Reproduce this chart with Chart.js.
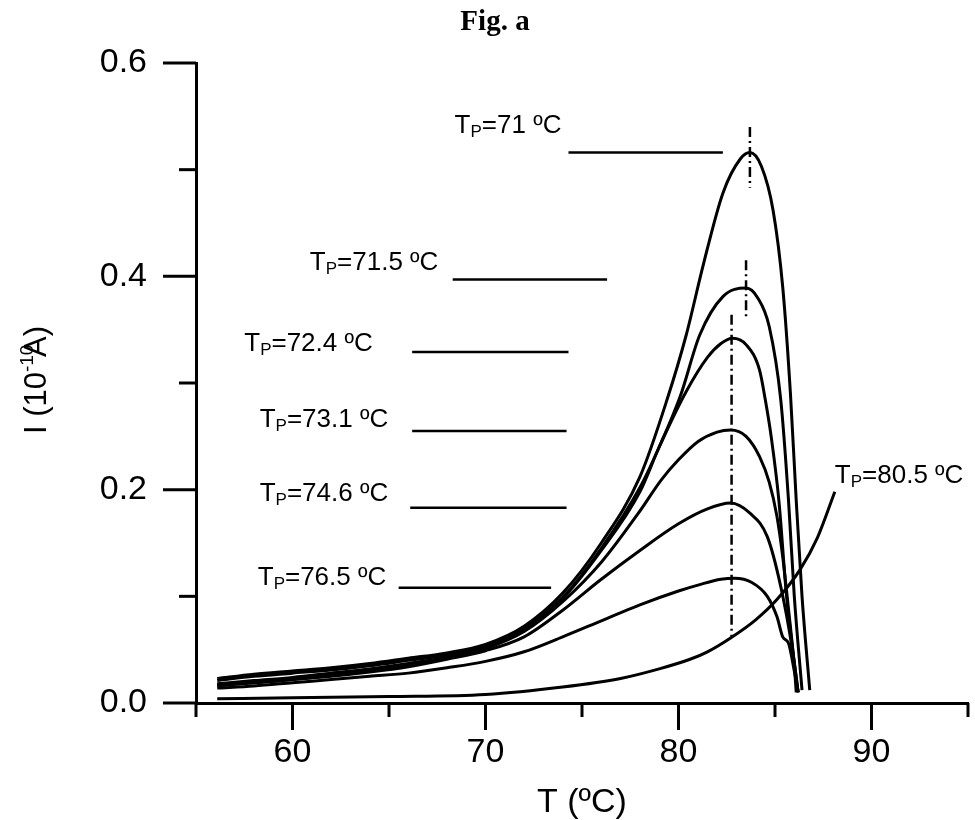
<!DOCTYPE html>
<html>
<head>
<meta charset="utf-8">
<title>Fig. a</title>
<script src="https://cdn.jsdelivr.net/npm/chart.js@4.4.1/dist/chart.umd.min.js"></script>
<style>
  html, body { margin: 0; padding: 0; background: #fff; }
</style>
</head>
<body>
<canvas id="tsdc" width="975" height="820"></canvas>
<script>
// polarization temperatures shown next to each curve
const tpLabels = ['71', '71.5', '72.4', '73.1', '74.6', '76.5', '80.5'];

// axis ticks
const xTicks = [55, 60, 65, 70, 75, 80, 85, 90, 95];
const yTicks = [0, 0.1, 0.2, 0.3, 0.4, 0.5, 0.6];

// TSDC curves: temperature (ºC) and current (1e-10 A)
const t71 = [56.1, 58, 60, 62, 64, 66, 68, 70, 72, 74, 76, 78, 79.4, 80.4, 81.3, 82.3, 83.2, 83.7, 84.3, 84.9, 85.4, 85.8, 86.1, 86.4, 86.8];
const i71 = [0.023, 0.027, 0.030, 0.033, 0.037, 0.042, 0.047, 0.055, 0.072, 0.103, 0.150, 0.212, 0.284, 0.345, 0.412, 0.478, 0.510, 0.516, 0.503, 0.462, 0.390, 0.290, 0.190, 0.100, 0.012];

const t715 = [56.1, 58, 60, 62, 64, 66, 68, 70, 72, 74, 76, 78, 79, 80.1, 81.1, 82.3, 83.5, 84.1, 84.7, 85.3, 85.7, 86.0, 86.4];
const i715 = [0.021, 0.025, 0.028, 0.031, 0.035, 0.040, 0.045, 0.053, 0.070, 0.099, 0.145, 0.202, 0.240, 0.288, 0.345, 0.381, 0.389, 0.380, 0.353, 0.284, 0.190, 0.100, 0.012];

const t724 = [56.1, 58, 60, 62, 64, 66, 68, 70, 72, 74, 76, 78, 79, 80.4, 81.5, 82.2, 82.8, 83.5, 84.2, 84.5, 84.8, 85.2, 85.6, 86.2];
const i724 = [0.018, 0.021, 0.024, 0.028, 0.032, 0.037, 0.043, 0.052, 0.069, 0.098, 0.143, 0.198, 0.240, 0.292, 0.324, 0.337, 0.342, 0.336, 0.312, 0.284, 0.250, 0.190, 0.100, 0.010];

const t731 = [56.1, 58, 60, 62, 64, 66, 68, 70, 72, 74, 76, 78, 79.1, 80, 81, 82, 82.7, 83.5, 84.2, 84.7, 85.1, 85.4, 85.7, 86.0, 86.1];
const i731 = [0.016, 0.019, 0.022, 0.026, 0.030, 0.035, 0.042, 0.051, 0.067, 0.095, 0.132, 0.180, 0.209, 0.228, 0.245, 0.254, 0.256, 0.250, 0.231, 0.207, 0.175, 0.137, 0.088, 0.035, 0.010];

const t746 = [56.1, 58, 60, 62, 64, 66, 68, 70, 72, 74, 76, 78, 80, 81.5, 82.7, 83.7, 84.6, 85.3, 85.9, 86.2];
const i746 = [0.017, 0.019, 0.022, 0.025, 0.029, 0.034, 0.041, 0.049, 0.062, 0.087, 0.116, 0.143, 0.168, 0.182, 0.1875, 0.178, 0.156, 0.109, 0.050, 0.010];

const t765 = [56.1, 58, 60, 62, 64, 66, 68, 70, 72, 74, 76, 78, 80, 81.1, 82.2, 82.9, 83.8, 84.6, 85.1, 85.4, 85.7, 86.0, 86.2];
const i765 = [0.014, 0.016, 0.019, 0.022, 0.025, 0.028, 0.033, 0.039, 0.048, 0.062, 0.077, 0.092, 0.105, 0.111, 0.116, 0.117, 0.113, 0.100, 0.081, 0.062, 0.056, 0.030, 0.010];

const t805 = [56.1, 60, 65, 70, 74, 77, 79, 80.6, 81.5, 82.7, 84, 85.1, 86.3, 87.2, 88.1];
const i805 = [0.004, 0.005, 0.006, 0.008, 0.015, 0.023, 0.032, 0.041, 0.048, 0.061, 0.078, 0.097, 0.125, 0.155, 0.198];

// dash-dot markers through the peaks: [x, yFrom, yTo]
const peakMarks = [[83.7, 0.540, 0.483], [83.5, 0.415, 0.359], [82.75, 0.364, 0.061]];

// leader lines next to the labels: [xFrom, xTo, y]
const leaders = [[74.3, 82.3, 0.516], [68.3, 76.3, 0.397], [66.2, 74.3, 0.329],
                 [66.2, 74.2, 0.255], [66.1, 74.2, 0.183], [65.5, 73.4, 0.108]];

// where each label text starts: [x, y] of the baseline
const labelPos = [[68.4, 0.534], [60.9, 0.406], [57.5, 0.330], [58.3, 0.259],
                  [58.3, 0.189], [58.2, 0.111], [88.1, 0.206]];

const curves = [[t71, i71], [t715, i715], [t724, i724], [t731, i731], [t746, i746], [t765, i765], [t805, i805]];

function pts(xs, ys) {
    return xs.map((x, k) => ({ x: x, y: ys[k] }));
}

const datasets = [];
curves.forEach(c => {
    datasets.push({
        data: pts(c[0], c[1]),
        borderColor: '#000',
        borderWidth: 3,
        pointRadius: 0,
        cubicInterpolationMode: 'monotone'
    });
});
peakMarks.forEach(m => {
    datasets.push({
        data: [{ x: m[0], y: m[1] }, { x: m[0], y: m[2] }],
        borderColor: '#000',
        borderWidth: 2.5,
        borderDash: [10, 4, 2, 4],
        pointRadius: 0
    });
});
leaders.forEach(l => {
    datasets.push({
        data: [{ x: l[0], y: l[2] }, { x: l[1], y: l[2] }],
        borderColor: '#000',
        borderWidth: 2.5,
        pointRadius: 0
    });
});

const FONT = '"Liberation Sans", Arial, sans-serif';

// ticks, axis titles and the T_P labels
const decorations = {
    id: 'decorations',
    afterDraw(chart) {
        const ctx = chart.ctx;
        const xs = chart.scales.x, ys = chart.scales.y;
        const area = chart.chartArea;
        ctx.save();
        ctx.strokeStyle = '#000';
        ctx.fillStyle = '#000';
        ctx.lineWidth = 3;

        yTicks.forEach(v => {
            const py = ys.getPixelForValue(v);
            const len = Math.round(v * 10) % 2 === 0 ? 33 : 17;
            ctx.beginPath();
            ctx.moveTo(area.left - len, py);
            ctx.lineTo(area.left, py);
            ctx.stroke();
        });
        xTicks.forEach(v => {
            const px = xs.getPixelForValue(v);
            const len = v % 10 === 0 ? 27 : 14;
            ctx.beginPath();
            ctx.moveTo(px, area.bottom);
            ctx.lineTo(px, area.bottom + len);
            ctx.stroke();
        });

        // figure caption
        ctx.font = 'bold 29px "Liberation Serif", "Times New Roman", serif';
        ctx.textAlign = 'center';
        ctx.textBaseline = 'alphabetic';
        ctx.fillText('Fig. a', 495, 30);

        // x title
        ctx.font = '34px ' + FONT;
        ctx.fillText('T (ºC)', (area.left + area.right) / 2, 812);

        // y title, rotated
        ctx.save();
        ctx.translate(46, 380);
        ctx.rotate(-Math.PI / 2);
        ctx.textAlign = 'left';
        const big = '31px ' + FONT, small = '19px ' + FONT;
        ctx.font = small;
        const w2 = ctx.measureText('-10').width;
        ctx.font = big;
        const p1 = 'I (10', p3 = 'A)';
        const w1 = ctx.measureText(p1).width, w3 = ctx.measureText(p3).width;
        const x0 = -(w1 + w2 * 0.55 + w3) / 2;
        ctx.fillText(p1, x0, 0);
        ctx.font = small;
        ctx.fillText('-10', x0 + w1, -13);
        ctx.font = big;
        ctx.fillText(p3, x0 + w1 + w2 * 0.55, 0);
        ctx.restore();

        // T_P labels
        ctx.textAlign = 'left';
        tpLabels.forEach((t, k) => {
            let px = xs.getPixelForValue(labelPos[k][0]);
            const py = ys.getPixelForValue(labelPos[k][1]);
            ctx.font = '26px ' + FONT;
            ctx.fillText('T', px, py);
            px += ctx.measureText('T').width;
            ctx.font = '17px ' + FONT;
            ctx.fillText('P', px, py + 4);
            px += ctx.measureText('P').width;
            ctx.font = '26px ' + FONT;
            ctx.fillText('=' + t + ' ºC', px, py);
        });
        ctx.restore();
    }
};

new Chart(document.getElementById('tsdc'), {
    type: 'line',
    data: { datasets: datasets },
    options: {
        responsive: false,
        animation: false,
        devicePixelRatio: 1,
        layout: { padding: { top: 63, right: 7, left: 0, bottom: 0 } },
        plugins: { legend: { display: false }, tooltip: { enabled: false } },
        scales: {
            x: {
                type: 'linear',
                min: 55,
                max: 95,
                afterFit: s => { s.height = 117; },
                afterBuildTicks: s => { s.ticks = xTicks.map(v => ({ value: v })); },
                border: { color: '#000', width: 3 },
                grid: { drawOnChartArea: false, drawTicks: true, tickLength: 27, tickColor: 'rgba(0,0,0,0)' },
                ticks: {
                    color: '#000',
                    font: { family: FONT, size: 34 },
                    padding: 2,
                    maxRotation: 0,
                    autoSkip: false,
                    callback: v => (v % 10 === 0 ? String(v) : '')
                }
            },
            y: {
                type: 'linear',
                min: 0,
                max: 0.6,
                afterFit: s => { s.width = 196; },
                afterBuildTicks: s => { s.ticks = yTicks.map(v => ({ value: v })); },
                border: { color: '#000', width: 3 },
                grid: { drawOnChartArea: false, drawTicks: true, tickLength: 33, tickColor: 'rgba(0,0,0,0)' },
                ticks: {
                    color: '#000',
                    font: { family: FONT, size: 34 },
                    padding: 16,
                    autoSkip: false,
                    callback: v => (Math.round(v * 10) % 2 === 0 ? v.toFixed(1) : '')
                }
            }
        }
    },
    plugins: [decorations]
});
</script>
</body>
</html>
